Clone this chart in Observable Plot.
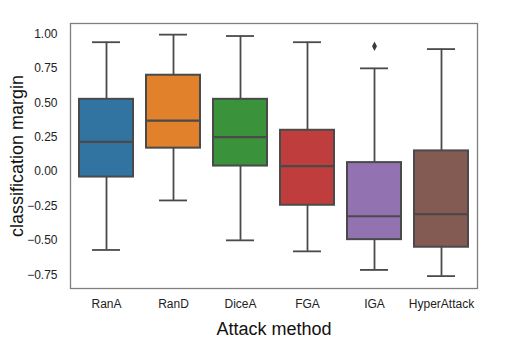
<!DOCTYPE html>
<html>
<head>
<meta charset="utf-8">
<script src="https://cdn.jsdelivr.net/npm/d3@7"></script>
<script src="https://cdn.jsdelivr.net/npm/@observablehq/plot@0.6"></script>
<style>
  html, body { margin: 0; padding: 0; background: #fff; }
  #chart { width: 518px; height: 357px; }
</style>
</head>
<body>
<div id="chart"></div>
<script>
const categories = ["RanA", "RanD", "DiceA", "FGA", "IGA", "HyperAttack"];
const whiskerLow  = [-0.57, -0.21, -0.50, -0.58, -0.715, -0.76];
const q1          = [-0.04,  0.17,  0.04, -0.245, -0.495, -0.55];
const median      = [ 0.215, 0.37,  0.25,  0.04, -0.325, -0.31];
const q3          = [ 0.525, 0.70,  0.525, 0.30,  0.065,  0.15];
const whiskerHigh = [ 0.94,  0.995, 0.985, 0.94,  0.75,   0.89];
const colors = ["#3274a1", "#e1812c", "#3a923a", "#c03d3e", "#9372b2", "#845b53"];
const outlierCats = ["IGA"];
const outlierValues = [0.91];
const yTicks = [-0.75, -0.5, -0.25, 0, 0.25, 0.5, 0.75, 1.0];
const xLabel = "Attack method";
const yLabel = "classification margin";

const rows = categories.map((c, i) => ({
  cat: c, low: whiskerLow[i], q1: q1[i], med: median[i], q3: q3[i], high: whiskerHigh[i]
}));
const outliers = outlierCats.map((c, i) => ({cat: c, value: outlierValues[i]}));

const thinDiamond = {
  draw(ctx, size) {
    const r = Math.sqrt(size / Math.PI);
    const w = r * 0.7, h = r * 1.35;
    ctx.moveTo(0, -h); ctx.lineTo(w, 0); ctx.lineTo(0, h); ctx.lineTo(-w, 0); ctx.closePath();
  }
};

const edge = "#4a4a4a";
const chart = Plot.plot({
  width: 518,
  height: 357,
  marginLeft: 70,
  marginRight: 41,
  marginTop: 23,
  marginBottom: 69,
  style: {fontFamily: "Liberation Sans, Arial, sans-serif", background: "#fff"},
  x: {domain: categories, paddingInner: 0.2, paddingOuter: 0.1, axis: null},
  y: {domain: [-0.85, 1.076], axis: null},
  color: {domain: categories, range: colors},
  marks: [
    Plot.ruleX(rows, {x: "cat", y1: "low", y2: "q1", stroke: edge, strokeWidth: 1.8}),
    Plot.ruleX(rows, {x: "cat", y1: "q3", y2: "high", stroke: edge, strokeWidth: 1.8}),
    Plot.tickY(rows, {x: "cat", y: "low", insetLeft: 13, insetRight: 13, stroke: edge, strokeWidth: 1.8}),
    Plot.tickY(rows, {x: "cat", y: "high", insetLeft: 13, insetRight: 13, stroke: edge, strokeWidth: 1.8}),
    Plot.barY(rows, {x: "cat", y1: "q1", y2: "q3", fill: "cat", stroke: edge, strokeWidth: 2}),
    Plot.tickY(rows, {x: "cat", y: "med", stroke: edge, strokeWidth: 2.2}),
    Plot.dot(outliers, {x: "cat", y: "value", symbol: thinDiamond, r: 3.5, fill: "#3a3a3a", stroke: "none"}),
    Plot.frame({stroke: "#7f7f7f", strokeWidth: 1.3}),
    Plot.axisY(yTicks, {tickSize: 0, tickPadding: 13, fontSize: 12, fill: "#222", label: null, tickFormat: d3.format(".2f")}),
    Plot.axisX(categories, {tickSize: 0, tickPadding: 11, fontSize: 12, fill: "#222", label: null}),
    Plot.text([yLabel], {frameAnchor: "left", textAnchor: "middle", dx: -53, rotate: -90, fontSize: 18, fill: "#111"}),
    Plot.text([xLabel], {frameAnchor: "bottom", dy: 46, fontSize: 18, fill: "#111"})
  ]
});
document.getElementById("chart").appendChild(chart);
</script>
</body>
</html>
